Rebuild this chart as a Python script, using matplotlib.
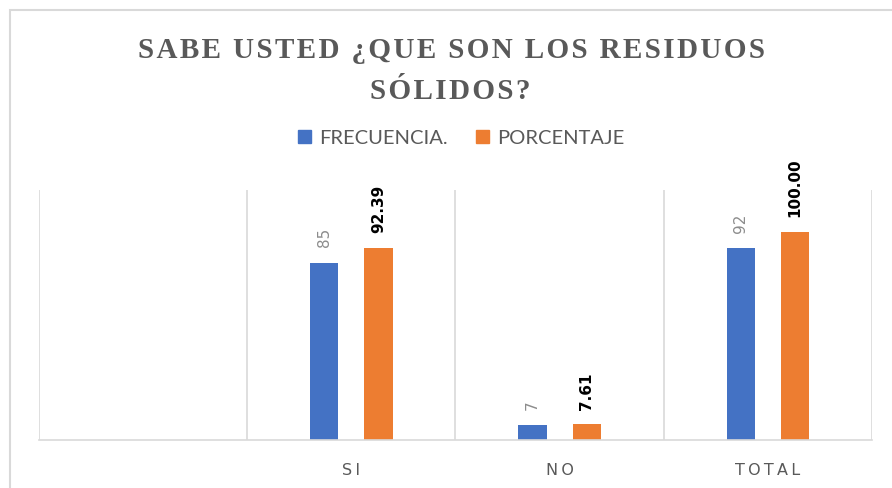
import numpy as np
import matplotlib.pyplot as plt
from matplotlib.patches import Rectangle, Patch

# Data
categories = ["SI", "NO", "TOTAL"]
frecuencia = [85, 7, 92]
porcentaje = [92.39, 7.61, 100.00]

title_lines = ["SABE USTED ¿QUE SON LOS RESIDUOS", "SÓLIDOS?"]
blue = "#4472c4"
orange = "#ed7d31"
grid_gray = "#d9d9d9"
text_gray = "#595959"


def spaced(s, sep="\u200a"):
    return sep.join(s)


fig = plt.figure(figsize=(8.92, 4.89), dpi=100)

# chart border (cropped on right and bottom)
fig.patches.append(Rectangle((10 / 892, -0.1), 1.2, 1 - 11 / 489 + 0.1,
                             transform=fig.transFigure, fill=False,
                             edgecolor=grid_gray, linewidth=1.5))

ax = fig.add_axes([39 / 892, 1 - 441 / 489, (872 - 39) / 892, (441 - 191) / 489])

# empty first slot, then the categories
x = np.arange(len(categories)) + 1
w = 0.135
off = 0.13
b1 = ax.bar(x - off, frecuencia, w, color=blue)
b2 = ax.bar(x + off, porcentaje, w, color=orange)

for rect, v in zip(b1, frecuencia):
    ax.annotate(f"{v}", (rect.get_x() + rect.get_width() / 2, rect.get_height()),
                xytext=(0, 12), textcoords="offset points", rotation=90,
                ha="center", va="bottom", fontsize=11, color="#8c8c8c")
for rect, v in zip(b2, porcentaje):
    ax.annotate(f"{v:.2f}", (rect.get_x() + rect.get_width() / 2, rect.get_height()),
                xytext=(0, 11), textcoords="offset points", rotation=90,
                ha="center", va="bottom", fontsize=11, fontweight="bold", color="black")

ax.set_xlim(-0.5, len(categories) + 0.5)
ax.set_ylim(0, 120)
ax.set_yticks([])
ax.set_xticks(np.arange(len(categories) + 1))
ax.set_xticklabels([""] + [spaced(c, "\u2009") for c in categories],
                   fontsize=11.5, color=text_gray)
ax.set_xticks(np.arange(len(categories) + 2) - 0.5, minor=True)
ax.tick_params(axis="x", which="both", length=0, pad=16)
ax.grid(axis="x", which="minor", color=grid_gray, linewidth=1.2)
ax.set_axisbelow(True)
for s in ["top", "left", "right"]:
    ax.spines[s].set_visible(False)
ax.spines["bottom"].set_color(grid_gray)
ax.spines["bottom"].set_linewidth(1.2)

# title
tfont = dict(family=["Liberation Serif", "DejaVu Serif"], fontweight="bold",
             fontsize=21, color=text_gray, ha="center", va="baseline")
fig.text(452 / 892, 1 - 58 / 489, spaced(title_lines[0]), **tfont)
fig.text(450 / 892, 1 - 99 / 489, spaced(title_lines[1]), **tfont)

# legend
handles = [Patch(color=blue, label="FRECUENCIA."), Patch(color=orange, label="PORCENTAJE")]
fig.legend(handles=handles, loc="center", bbox_to_anchor=(461 / 892, 1 - 139 / 489),
           ncol=2, frameon=False, labelcolor=text_gray,
           handlelength=0.65, handleheight=0.65, handletextpad=0.4, columnspacing=1.4,
           prop={"family": "Lato", "size": 14.5})

fig.savefig("out.png", dpi=100)
